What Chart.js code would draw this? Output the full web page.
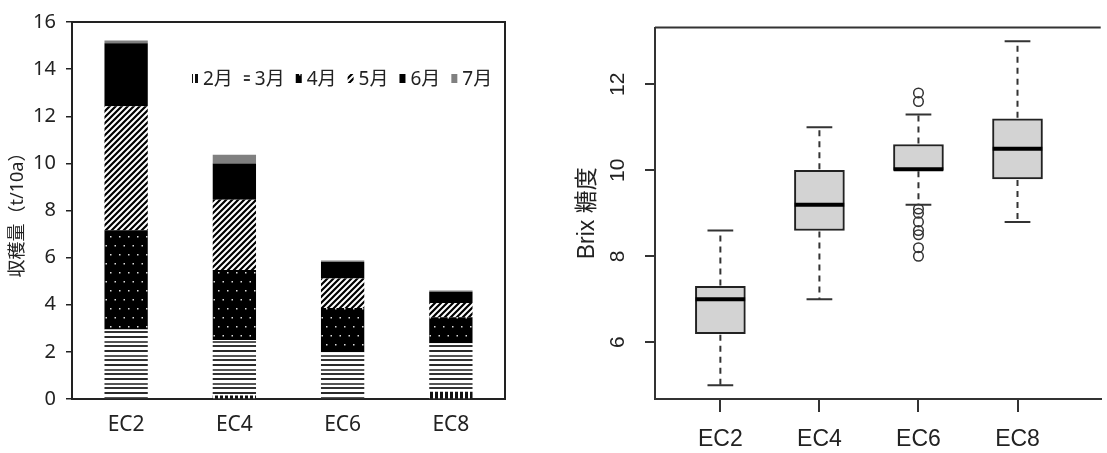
<!DOCTYPE html>
<html>
<head>
<meta charset="utf-8">
<script src="https://cdn.jsdelivr.net/npm/chart.js@4.4.1/dist/chart.umd.min.js"></script>
<style>
  body { margin: 0; background: #fff; width: 1107px; height: 453px; overflow: hidden; position: relative; }
  canvas { position: absolute; top: 0; }
  #yield { left: 0; }
  #brix { left: 560px; }
</style>
</head>
<body>
<canvas id="yield" width="560" height="453"></canvas>
<canvas id="brix" width="547" height="453"></canvas>
<script>
// left: harvest per month (t/10a)
const ecLabels = ['EC2', 'EC4', 'EC6', 'EC8'];
const months = ['2月', '3月', '4月', '5月', '6月', '7月'];
const feb = [0, 0.15, 0, 0.31];
const mar = [2.95, 2.35, 1.98, 2.06];
const apr = [4.21, 2.97, 1.88, 1.10];
const may = [5.26, 2.99, 1.25, 0.60];
const jun = [2.68, 1.54, 0.70, 0.48];
const jul = [0.12, 0.37, 0.07, 0.06];
const yieldTicks = [0, 2, 4, 6, 8, 10, 12, 14, 16];

// right: Brix boxplot
const bLow = [5.0, 7.0, 9.2, 8.8];
const bQ1 = [6.2, 8.6, 10.0, 9.8];
const bMed = [7.0, 9.2, 10.0, 10.5];
const bQ3 = [7.3, 10.0, 10.6, 11.2];
const bHigh = [8.6, 11.0, 11.3, 13.0];
const ec6Out = [11.8, 11.6, 9.1, 9.0, 8.8, 8.6, 8.5, 8.2, 8.0];
const brixTicks = [6, 8, 10, 12];

const JP = '"Noto Sans", "Noto Sans CJK JP", sans-serif';
const AR = '"Liberation Sans", Arial, "Noto Sans CJK JP", sans-serif';

function makePattern(kind) {
  const c = document.createElement('canvas');
  const g = c.getContext('2d');
  if (kind === 'vlines') {
    c.width = 5; c.height = 5;
    g.fillStyle = '#fff'; g.fillRect(0, 0, 5, 5);
    g.fillStyle = '#111'; g.fillRect(0, 0, 3, 5);
  } else if (kind === 'hlines') {
    c.width = 4; c.height = 14;
    g.fillStyle = '#fff'; g.fillRect(0, 0, 4, 14);
    g.fillStyle = '#2a2a2a'; g.fillRect(0, 0, 4, 2);
    g.fillStyle = '#555'; g.fillRect(0, 5, 4, 2);
    g.fillStyle = '#333'; g.fillRect(0, 9, 4, 2);
  } else if (kind === 'dots') {
    c.width = 18; c.height = 18;
    g.fillStyle = '#000'; g.fillRect(0, 0, 18, 18);
    g.fillStyle = '#ddd';
    g.fillRect(2, 2, 1.5, 1.5); g.fillRect(11, 2, 1.5, 1.5);
    g.fillRect(6.5, 11, 1.5, 1.5); g.fillRect(15.5, 11, 1.5, 1.5);
  } else if (kind === 'diag') {
    c.width = 6; c.height = 6;
    g.fillStyle = '#fff'; g.fillRect(0, 0, 6, 6);
    g.strokeStyle = '#000'; g.lineWidth = 2.2;
    g.beginPath();
    g.moveTo(-1, 7); g.lineTo(7, -1);
    g.moveTo(-4, 4); g.lineTo(4, -4);
    g.moveTo(2, 10); g.lineTo(10, 2);
    g.stroke();
  }
  return g.createPattern(c, 'repeat');
}

const fills = [makePattern('vlines'), makePattern('hlines'), makePattern('dots'), makePattern('diag'), '#000', '#808080'];
const series = [feb, mar, apr, may, jun, jul];

const frame = {
  id: 'frame',
  afterDraw(chart, args, opts) {
    const { left, top, right, bottom } = chart.chartArea;
    const ctx = chart.ctx;
    ctx.save();
    ctx.strokeStyle = opts.color;
    ctx.lineWidth = opts.width;
    ctx.beginPath();
    ctx.moveTo(left, top);
    ctx.lineTo(right, top);
    if (opts.right) ctx.lineTo(right, bottom);
    ctx.stroke();
    ctx.restore();
  }
};

const monthLegend = {
  id: 'monthLegend',
  afterDraw(chart) {
    const ctx = chart.ctx;
    ctx.save();
    ctx.font = '19px ' + JP;
    ctx.textBaseline = 'middle';
    let x = 192;
    const y = 80;
    chart.data.datasets.forEach(ds => {
      ctx.fillStyle = ds.backgroundColor;
      ctx.fillRect(x, y - 6, 6, 9);
      ctx.fillStyle = '#222';
      ctx.fillText(ds.label, x + 11, y);
      x += 11 + ctx.measureText(ds.label).width + 11;
    });
    ctx.restore();
  }
};

new Chart(document.getElementById('yield'), {
  type: 'bar',
  data: {
    labels: ecLabels,
    datasets: series.map((d, i) => ({
      label: months[i],
      data: d,
      backgroundColor: fills[i],
      borderWidth: 0,
      categoryPercentage: 1,
      barPercentage: 0.4
    }))
  },
  options: {
    responsive: false,
    animation: false,
    layout: { padding: { left: 0, top: 16, right: 55, bottom: 0 } },
    plugins: {
      legend: { display: false },
      tooltip: { enabled: false },
      frame: { color: '#222', width: 2, right: true }
    },
    scales: {
      x: {
        stacked: true,
        grid: { display: false },
        border: { display: true, color: '#222', width: 2 },
        ticks: { font: { family: JP, size: 21 }, color: '#222', padding: 5 },
        afterFit(s) { s.height = 54; }
      },
      y: {
        stacked: true,
        min: 0,
        max: 16,
        afterBuildTicks(s) { s.ticks = yieldTicks.map(v => ({ value: v })); },
        grid: { drawOnChartArea: false, tickLength: 6, color: '#222', lineWidth: 1.5 },
        border: { display: true, color: '#222', width: 2 },
        ticks: { font: { family: JP, size: 20 }, color: '#222', padding: 10 },
        title: { display: true, text: '収穫量（t/10a）', font: { family: JP, size: 18 }, color: '#222', padding: { top: 7, bottom: 0 } },
        afterFit(s) { s.width = 72; }
      }
    }
  },
  plugins: [frame, monthLegend]
});

const boxExtras = {
  id: 'boxExtras',
  afterDatasetsDraw(chart) {
    const xs = chart.scales.x, ys = chart.scales.y;
    const ctx = chart.ctx;
    ctx.save();
    bMed.forEach((m, i) => {
      const pos = i + 1;
      const cx = xs.getPixelForValue(pos);
      const capL = xs.getPixelForValue(pos - 0.13), capR = xs.getPixelForValue(pos + 0.13);
      const boxL = xs.getPixelForValue(pos - 0.25), boxR = xs.getPixelForValue(pos + 0.25);
      ctx.strokeStyle = '#333';
      ctx.lineWidth = 2;
      ctx.setLineDash([6, 5]);
      ctx.beginPath();
      ctx.moveTo(cx, ys.getPixelForValue(bQ3[i]) - 1);
      ctx.lineTo(cx, ys.getPixelForValue(bHigh[i]));
      ctx.moveTo(cx, ys.getPixelForValue(bQ1[i]) + 1);
      ctx.lineTo(cx, ys.getPixelForValue(bLow[i]));
      ctx.stroke();
      ctx.setLineDash([]);
      ctx.beginPath();
      ctx.moveTo(capL, ys.getPixelForValue(bHigh[i]));
      ctx.lineTo(capR, ys.getPixelForValue(bHigh[i]));
      ctx.moveTo(capL, ys.getPixelForValue(bLow[i]));
      ctx.lineTo(capR, ys.getPixelForValue(bLow[i]));
      ctx.stroke();
      let my = ys.getPixelForValue(m);
      if (m === bQ1[i]) my -= 1;
      ctx.strokeStyle = '#000';
      ctx.lineWidth = 4;
      ctx.beginPath();
      ctx.moveTo(boxL, my);
      ctx.lineTo(boxR, my);
      ctx.stroke();
    });
    ctx.restore();
  }
};

new Chart(document.getElementById('brix'), {
  type: 'bar',
  data: {
    datasets: [
      {
        type: 'scatter',
        data: ec6Out.map(v => ({ x: 3, y: v })),
        pointRadius: 4.8,
        pointBorderWidth: 1.5,
        pointBackgroundColor: 'rgba(0,0,0,0)',
        pointBorderColor: '#333'
      },
      {
        data: bQ1.map((q, i) => ({ x: i + 1, y: [q, bQ3[i]] })),
        backgroundColor: '#d3d3d3',
        borderColor: '#222',
        borderWidth: 2,
        borderSkipped: false,
        barThickness: 50
      }
    ]
  },
  options: {
    responsive: false,
    animation: false,
    layout: { padding: { left: 0, top: 18, right: 0, bottom: 0 } },
    plugins: {
      legend: { display: false },
      tooltip: { enabled: false },
      frame: { color: '#333', width: 2, right: false }
    },
    scales: {
      x: {
        type: 'linear',
        offset: false,
        min: 0.34,
        max: 4.84,
        afterBuildTicks(s) { s.ticks = ecLabels.map((l, i) => ({ value: i + 1 })); },
        grid: { offset: false, drawOnChartArea: false, tickLength: 13, color: '#333', lineWidth: 2 },
        border: { display: true, color: '#333', width: 2 },
        ticks: {
          font: { family: AR, size: 23 }, color: '#222', padding: 14,
          callback: (v, i) => ecLabels[i]
        },
        afterFit(s) { s.height = 54; }
      },
      y: {
        min: 4.68,
        max: 13.32,
        afterBuildTicks(s) { s.ticks = brixTicks.map(v => ({ value: v })); },
        grid: { drawOnChartArea: false, tickLength: 10, color: '#333', lineWidth: 2 },
        border: { display: true, color: '#333', width: 2 },
        ticks: {
          font: { family: AR, size: 21 }, color: '#222', padding: 15,
          minRotation: 90, maxRotation: 90, crossAlign: 'center'
        },
        title: { display: true, text: 'Brix 糖度', font: { family: AR, size: 23 }, color: '#222', padding: { top: 14, bottom: 0 } },
        afterFit(s) { s.width = 95; }
      }
    }
  },
  plugins: [frame, boxExtras]
});
</script>
</body>
</html>
